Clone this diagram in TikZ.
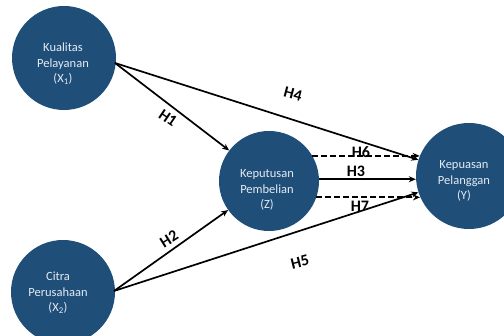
\documentclass[tikz,border=0pt]{standalone}
\usepackage{fontspec}
\setmainfont{Carlito}
\usetikzlibrary{arrows.meta}
\definecolor{circblue}{RGB}{31,78,121}
\definecolor{circtext}{RGB}{228,235,243}
\begin{document}
\begin{tikzpicture}[x=1pt,y=-1pt,
  var/.style={circle,fill=circblue,draw=none,minimum size=#1,inner sep=0pt},
  vtext/.style={text=circtext,align=center,inner sep=0pt,font=\fontsize{12.5}{15.5}\selectfont},
  conn/.style={line width=1.7pt,-{Stealth[length=7pt,width=6pt]}},
  dconn/.style={conn,dash pattern=on 5.5pt off 3.5pt},
  hlab/.style={font=\fontsize{16}{16}\selectfont\bfseries,inner sep=0pt}]
\useasboundingbox (0,0) rectangle (504,336);
\node[var=104pt] (x1) at (64,58) {};
\node[var=104pt] (x2) at (63,292) {};
\node[var=100pt] (z) at (269,181) {};
\node[var=106pt] (y) at (469,176) {};
\node[vtext] (x1t) at (63,64) {Kualitas\\Pelayanan\\(X\textsubscript{1})};
\node[vtext] (x2t) at (58,293) {Citra\\Perusahaan\\(X\textsubscript{2})};
\node[vtext] (zt) at (267,190) {Keputusan\\Pembelian\\(Z)};
\node[vtext] (yt) at (464,181) {Kepuasan\\Pelanggan\\(Y)};
\coordinate (x1o) at (115,63);
\coordinate (x2o) at (114,291);
\draw[conn] (x1o) -- (z);
\draw[conn] (x1o) -- (y);
\draw[conn] (x2o) -- (z);
\draw[conn] (x2o) -- (y);
\draw[dconn] (z.30) -- (z.30 -| y.158);
\draw[conn] (z.2) -- (z.2 -| y.west);
\draw[dconn] (z.-19) -- (z.-19 -| y.203);
\node[hlab,rotate=-34] (h1) at (168,118) {H1};
\node[hlab,rotate=-15] (h4) at (293,94) {H4};
\node[hlab,rotate=32] (h2) at (169,239) {H2};
\node[hlab,rotate=14] (h5) at (300,262) {H5};
\node[hlab] (h6) at (361,152) {H6};
\node[hlab] (h3) at (356,171) {H3};
\node[hlab] (h7) at (360,206) {H7};
\end{tikzpicture}
\end{document}
